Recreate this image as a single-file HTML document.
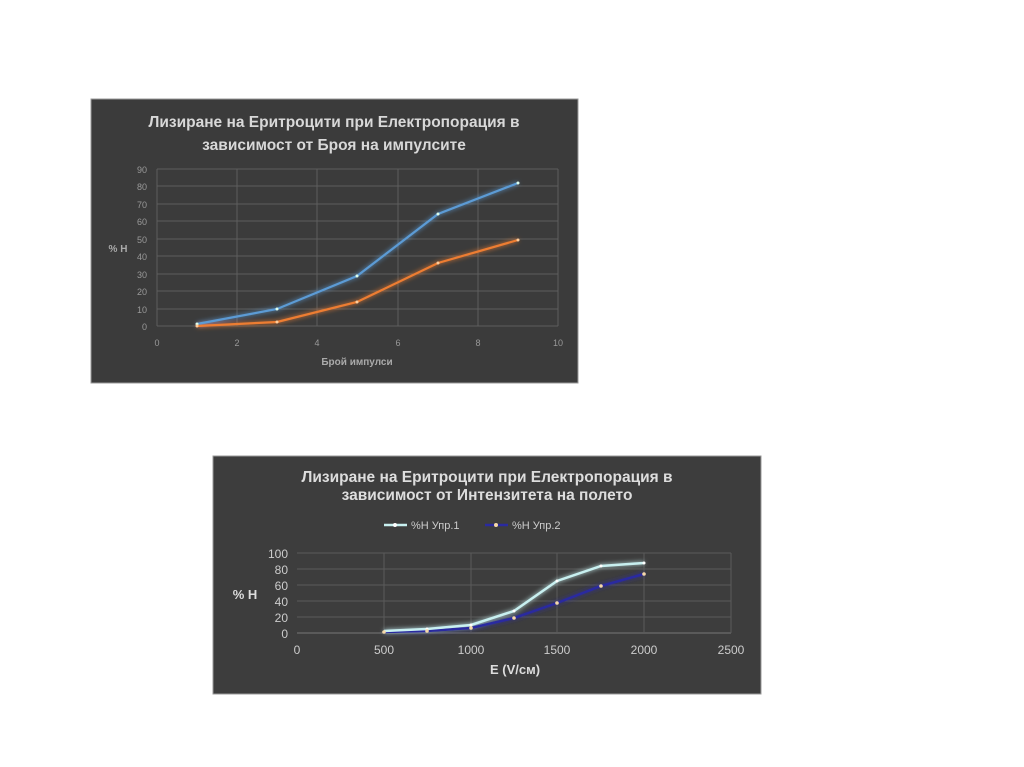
<!DOCTYPE html>
<html><head><meta charset="utf-8"><style>
body{margin:0;background:#fff;width:1024px;height:767px;overflow:hidden}
svg{position:absolute;left:0;top:0}
</style></head><body>
<svg width="1024" height="767" viewBox="0 0 1024 767" font-family="Liberation Sans, sans-serif">
<defs>
<filter id="g" x="-20%" y="-20%" width="140%" height="140%"><feGaussianBlur stdDeviation="2.5" result="b"/><feMerge><feMergeNode in="b"/><feMergeNode in="SourceGraphic"/></feMerge></filter>
</defs>
<!-- Chart 1 -->
<rect x="91" y="99" width="487" height="284" fill="#3b3b3b" stroke="#999" stroke-width="1"/>
<text x="334" y="127" fill="#d8d8d8" font-size="15.5" font-weight="bold" text-anchor="middle">Лизиране на Еритроцити при Електропорация в</text>
<text x="334" y="150" fill="#d8d8d8" font-size="15.5" font-weight="bold" text-anchor="middle">зависимост от Броя на импулсите</text>
<g stroke="#5e5e5e" stroke-width="1">
<line x1="157" y1="169" x2="558" y2="169"/><line x1="157" y1="186" x2="558" y2="186"/><line x1="157" y1="204" x2="558" y2="204"/><line x1="157" y1="221" x2="558" y2="221"/><line x1="157" y1="239" x2="558" y2="239"/><line x1="157" y1="256" x2="558" y2="256"/><line x1="157" y1="274" x2="558" y2="274"/><line x1="157" y1="291" x2="558" y2="291"/><line x1="157" y1="309" x2="558" y2="309"/><line x1="157" y1="326" x2="558" y2="326"/>
<line x1="157" y1="169" x2="157" y2="326"/><line x1="237" y1="169" x2="237" y2="326"/><line x1="317" y1="169" x2="317" y2="326"/><line x1="398" y1="169" x2="398" y2="326"/><line x1="478" y1="169" x2="478" y2="326"/><line x1="558" y1="169" x2="558" y2="326"/>
</g>
<g fill="#999" font-size="9" text-anchor="end">
<text x="147" y="173">90</text><text x="147" y="190">80</text><text x="147" y="208">70</text><text x="147" y="225">60</text><text x="147" y="243">50</text><text x="147" y="260">40</text><text x="147" y="278">30</text><text x="147" y="295">20</text><text x="147" y="313">10</text><text x="147" y="330">0</text>
</g>
<g fill="#999" font-size="9" text-anchor="middle">
<text x="157" y="346">0</text><text x="237" y="346">2</text><text x="317" y="346">4</text><text x="398" y="346">6</text><text x="478" y="346">8</text><text x="558" y="346">10</text>
</g>
<text x="118" y="252" fill="#aaa" font-size="10" font-weight="bold" text-anchor="middle">% H</text>
<text x="357" y="365" fill="#aaa" font-size="10" font-weight="bold" text-anchor="middle">Брой импулси</text>
<g filter="url(#g)" fill="none" stroke-width="2.2">
<polyline stroke="#5b9bd5" points="197,324 277,309 357,276 438,214 518,183"/>
<polyline stroke="#ed7d31" points="197,326 277,322 357,302 438,263 518,240"/>
</g>
<g fill="#dfe"><circle cx="197" cy="324" r="1.5"/><circle cx="277" cy="309" r="1.5"/><circle cx="357" cy="276" r="1.5"/><circle cx="438" cy="214" r="1.5"/><circle cx="518" cy="183" r="1.5"/></g>
<g fill="#fc9"><circle cx="197" cy="326" r="1.5"/><circle cx="277" cy="322" r="1.5"/><circle cx="357" cy="302" r="1.5"/><circle cx="438" cy="263" r="1.5"/><circle cx="518" cy="240" r="1.5"/></g>

<!-- Chart 2 -->
<rect x="213" y="456" width="548" height="238" fill="#3d3d3d" stroke="#999" stroke-width="1"/>
<text x="487" y="482" fill="#ddd" font-size="15.5" font-weight="bold" text-anchor="middle">Лизиране на Еритроцити при Електропорация в</text>
<text x="487" y="500" fill="#ddd" font-size="15.5" font-weight="bold" text-anchor="middle">зависимост от Интензитета на полето</text>
<line x1="384" y1="525" x2="407" y2="525" stroke="#c8f0f0" stroke-width="2.5"/><circle cx="395" cy="525" r="2" fill="#fff"/>
<text x="411" y="529" fill="#ccc" font-size="11">%H Упр.1</text>
<line x1="485" y1="525" x2="508" y2="525" stroke="#2a2aa0" stroke-width="2.5"/><circle cx="496" cy="525" r="2" fill="#f5d8a8"/>
<text x="512" y="529" fill="#ccc" font-size="11">%H Упр.2</text>
<g stroke="#5a5a5a" stroke-width="1">
<line x1="297" y1="553" x2="731" y2="553"/><line x1="297" y1="569" x2="731" y2="569"/><line x1="297" y1="585" x2="731" y2="585"/><line x1="297" y1="601" x2="731" y2="601"/><line x1="297" y1="617" x2="731" y2="617"/><line x1="297" y1="633" x2="731" y2="633" stroke="#777"/>
<line x1="384" y1="553" x2="384" y2="633"/><line x1="471" y1="553" x2="471" y2="633"/><line x1="557" y1="553" x2="557" y2="633"/><line x1="644" y1="553" x2="644" y2="633"/><line x1="731" y1="553" x2="731" y2="633"/>
</g>
<g fill="#ccc" font-size="12" text-anchor="end">
<text x="288" y="558">100</text><text x="288" y="574">80</text><text x="288" y="590">60</text><text x="288" y="606">40</text><text x="288" y="622">20</text><text x="288" y="638">0</text>
</g>
<g fill="#ccc" font-size="12" text-anchor="middle">
<text x="297" y="654">0</text><text x="384" y="654">500</text><text x="471" y="654">1000</text><text x="557" y="654">1500</text><text x="644" y="654">2000</text><text x="731" y="654">2500</text>
</g>
<text x="245" y="599" fill="#ddd" font-size="13" font-weight="bold" text-anchor="middle">% H</text>
<text x="515" y="674" fill="#ddd" font-size="13" font-weight="bold" text-anchor="middle">E (V/см)</text>
<g filter="url(#g)" fill="none" stroke-width="2.5">
<polyline stroke="#2a2aa0" points="384,632 427,631 471,628 514,618 557,603 601,586 644,574"/>
<polyline stroke="#c8f0f0" points="384,631 427,629 471,625 514,611 557,581 601,566 644,563"/>
</g>
<g fill="#fff"><circle cx="427" cy="629" r="1.5"/><circle cx="471" cy="625" r="1.5"/><circle cx="514" cy="611" r="1.5"/><circle cx="557" cy="581" r="1.5"/><circle cx="601" cy="566" r="1.5"/><circle cx="644" cy="563" r="1.5"/></g>
<g fill="#f5d8a8"><circle cx="384" cy="632" r="1.8"/><circle cx="427" cy="631" r="1.8"/><circle cx="471" cy="628" r="1.8"/><circle cx="514" cy="618" r="1.8"/><circle cx="557" cy="603" r="1.8"/><circle cx="601" cy="586" r="1.8"/><circle cx="644" cy="574" r="1.8"/></g>
</svg>
</body></html>
